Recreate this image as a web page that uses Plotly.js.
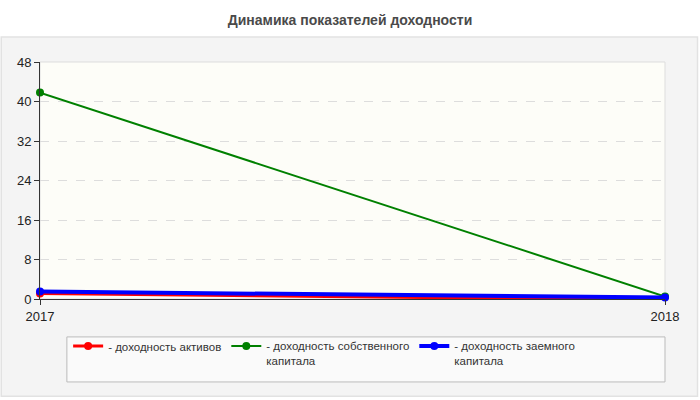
<!DOCTYPE html>
<html>
<head>
<meta charset="utf-8">
<script src="https://cdn.plot.ly/plotly-3.0.1.min.js"></script>
<style>
  html, body { margin: 0; padding: 0; background: #fff; }
  #chart { width: 700px; height: 400px; }
</style>
</head>
<body>
<div id="chart"></div>
<script>
// years on the x axis
const years = [2017, 2018];

// series values, %
const returnOnAssets = [1.1, -0.2];
const returnOnEquity = [41.8, 0.5];
const returnOnDebt = [1.5, 0.3];

const seriesNames = [
    "- доходность активов",
    "- доходность собственного<br>капитала",
    "- доходность заемного<br>капитала"
];

const yTicks = [0, 8, 16, 24, 32, 40, 48];

function makeTrace(y, name, color) {
    return {
        x: years,
        y: y,
        name: name,
        mode: "lines+markers",
        line: { color: color, width: 2 },
        marker: { color: color, size: 8 },
        cliponaxis: false,
        hoverinfo: "x+y"
    };
}

const traces = [
    makeTrace(returnOnAssets, seriesNames[0], "#ff0000"),
    makeTrace(returnOnEquity, seriesNames[1], "#008000"),
    makeTrace(returnOnDebt, seriesNames[2], "#0000ff")
];
traces[0].line.width = 3;
traces[2].line.width = 4;

const layout = {
    width: 700,
    height: 400,
    paper_bgcolor: "#ffffff",
    plot_bgcolor: "#fdfdf8",
    margin: { l: 40, r: 35, t: 62, b: 101 },
    font: { family: "Liberation Sans, Arial, sans-serif", size: 12, color: "#222" },
    title: {
        text: "<b>Динамика показателей доходности</b>",
        x: 0.5,
        xanchor: "center",
        y: 0.95,
        yanchor: "middle",
        font: { size: 14, color: "#4a4a4a" }
    },
    showlegend: true,
    legend: {
        orientation: "h",
        x: 0.045,
        xanchor: "left",
        y: 0.17,
        yanchor: "top",
        xref: "paper",
        yref: "container",
        bgcolor: "rgba(0,0,0,0)",
        itemwidth: 30,
        tracegroupgap: 0,
        valign: "top",
        font: { size: 11.5, color: "#333" }
    },
    xaxis: {
        range: [2017, 2018],
        tickvals: years,
        ticktext: years.map(String),
        ticks: "outside",
        ticklen: 5,
        tickcolor: "#333",
        showline: true,
        linecolor: "#333",
        linewidth: 1,
        showgrid: false,
        zeroline: false,
        mirror: false,
        tickfont: { size: 13, color: "#222" }
    },
    yaxis: {
        range: [0, 48],
        tickvals: yTicks,
        ticks: "outside",
        ticklen: 5,
        tickcolor: "#333",
        showline: true,
        linecolor: "#333",
        linewidth: 1,
        showgrid: true,
        gridcolor: "#dddddd",
        griddash: "dash",
        zeroline: false,
        tickfont: { size: 13, color: "#222" }
    },
    shapes: [
        // gray panel behind the plot
        {
            type: "rect", xref: "paper", yref: "paper", layer: "below",
            x0: -0.062, x1: 1.052, y0: -0.41, y1: 1.105,
            fillcolor: "#f4f4f4",
            line: { color: "#e2e2e2", width: 1.5 }
        },
        // frame on top/right of plot area
        {
            type: "rect", xref: "paper", yref: "paper", layer: "below",
            x0: 0, x1: 1, y0: 0, y1: 1,
            fillcolor: "#fdfdf8",
            line: { color: "#dddddd", width: 1 }
        },
        // legend box
        {
            type: "rect", xref: "paper", yref: "paper", layer: "below",
            x0: 0.043, x1: 1.0, y0: -0.35, y1: -0.16,
            fillcolor: "#fafafa",
            line: { color: "#bbbbbb", width: 1 }
        }
    ]
};

Plotly.newPlot("chart", traces, layout, { displayModeBar: false, staticPlot: true });
</script>
</body>
</html>
